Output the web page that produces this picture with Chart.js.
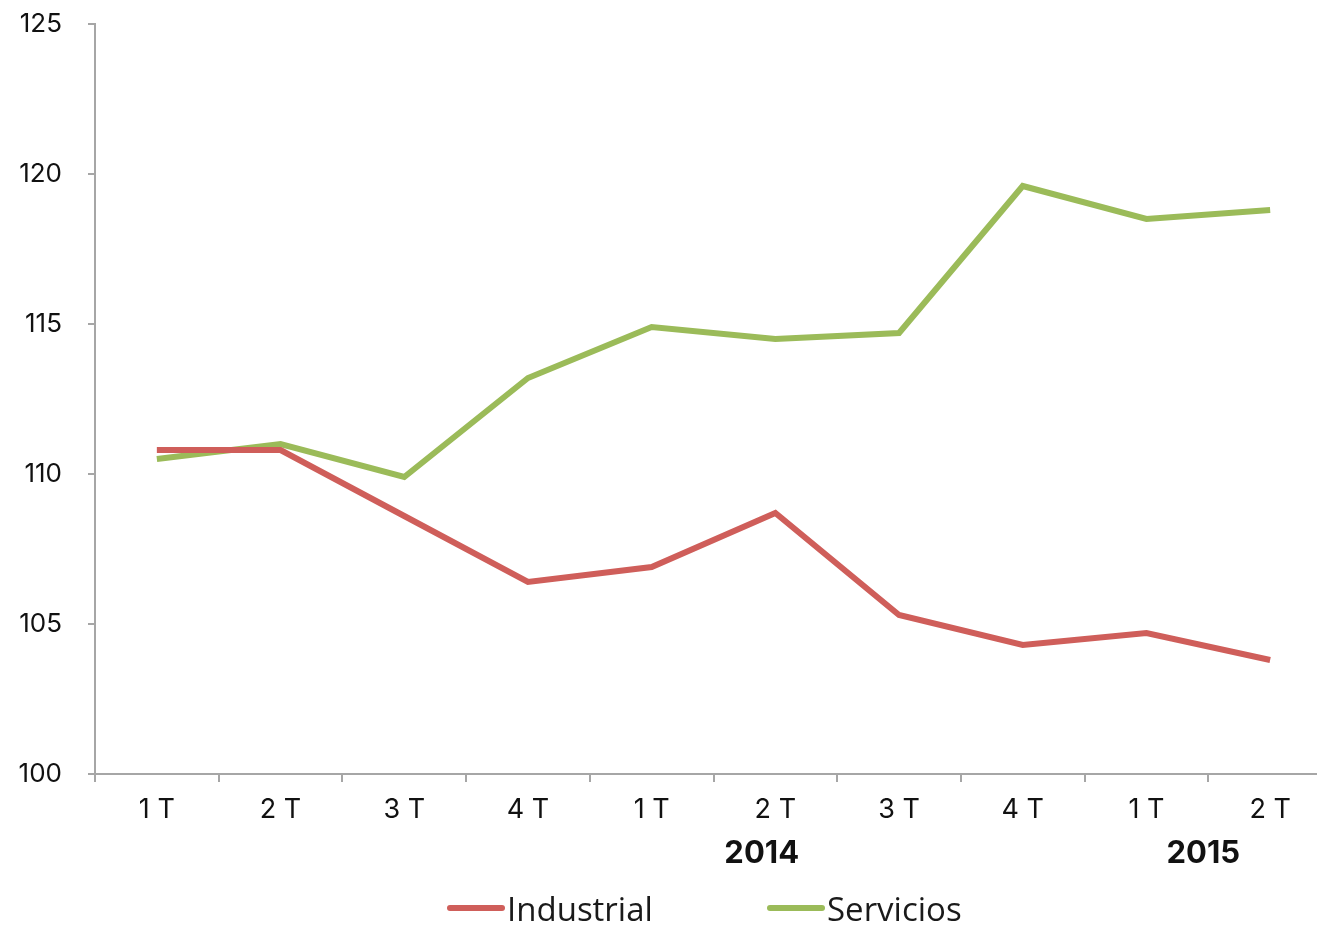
<!DOCTYPE html>
<html>
<head>
<meta charset="utf-8">
<script src="https://cdn.jsdelivr.net/npm/chart.js@4/dist/chart.umd.min.js"></script>
<style>
  html, body { margin: 0; padding: 0; background: #fff; overflow: hidden; }
  #wrap { width: 1317px; height: 926px; overflow: hidden; }
</style>
</head>
<body>
<!-- canvas is a bit wider than the page: the x axis runs past the right edge -->
<div id="wrap"><canvas id="empleoChart" width="1332" height="926"></canvas></div>
<script>
const quarters = ['1 T', '2 T', '3 T', '4 T', '1 T', '2 T', '3 T', '4 T', '1 T', '2 T'];
const industrial = [110.8, 110.8, 108.6, 106.4, 106.9, 108.7, 105.3, 104.3, 104.7, 103.8];
const servicios = [110.5, 111.0, 109.9, 113.2, 114.9, 114.5, 114.7, 119.6, 118.5, 118.8];
const yearLabels = ['2014', '2015'];
const yearPositions = [4.89, 8.46]; // category index under which each year sits

const fontTicks = 'Inter, "Open Sans", sans-serif';

// year captions under the quarter labels + bottom legend
const extras = {
    id: 'extras',
    afterDraw(chart) {
        const ctx = chart.ctx;
        const x = chart.scales.x;
        ctx.save();
        ctx.fillStyle = '#111';
        ctx.font = 'bold 31px ' + fontTicks;
        ctx.textAlign = 'center';
        ctx.textBaseline = 'middle';
        yearLabels.forEach(function (lbl, i) {
            ctx.fillText(lbl, x.getPixelForValue(yearPositions[i]), 854);
        });

        // legend
        const items = [
            { ds: chart.data.datasets[0], x: 450 },
            { ds: chart.data.datasets[1], x: 770 }
        ];
        ctx.textAlign = 'left';
        ctx.font = '33px "Open Sans", sans-serif';
        items.forEach(function (it) {
            ctx.strokeStyle = it.ds.borderColor;
            ctx.lineWidth = 6;
            ctx.lineCap = 'round';
            ctx.beginPath();
            ctx.moveTo(it.x, 908);
            ctx.lineTo(it.x + 52, 908);
            ctx.stroke();
            ctx.fillStyle = '#1a1a1a';
            ctx.fillText(it.ds.label, it.x + 57, 912);
        });
        ctx.restore();
    }
};

const ctx = document.getElementById('empleoChart').getContext('2d');
const empleoChart = new Chart(ctx, {
    type: 'line',
    data: {
        labels: quarters,
        datasets: [{
            label: 'Industrial',
            data: industrial,
            borderColor: '#cf5e5a',
            backgroundColor: '#cf5e5a',
            borderWidth: 6,
            pointRadius: 0,
            tension: 0
        }, {
            label: 'Servicios',
            data: servicios,
            borderColor: '#9bbb59',
            backgroundColor: '#9bbb59',
            borderWidth: 6,
            pointRadius: 0,
            tension: 0
        }]
    },
    options: {
        responsive: false,
        animation: false,
        layout: {
            padding: { top: 24, right: 0, bottom: 0, left: 0 }
        },
        plugins: {
            legend: { display: false },
            tooltip: { enabled: false }
        },
        scales: {
            x: {
                offset: true,
                grid: {
                    offset: true,
                    drawOnChartArea: false,
                    drawTicks: true,
                    tickLength: 8,
                    color: '#a6a6a6',
                    lineWidth: 2
                },
                border: { color: '#a6a6a6', width: 2 },
                ticks: {
                    color: '#111',
                    padding: 12,
                    maxRotation: 0,
                    autoSkip: false,
                    font: { family: fontTicks, size: 27 }
                },
                afterFit: function (scale) {
                    scale.height = 152;
                    scale.paddingLeft = 0;
                    scale.paddingRight = 0;
                }
            },
            y: {
                min: 100,
                max: 125,
                ticks: {
                    stepSize: 5,
                    color: '#111',
                    padding: 26,
                    font: { family: fontTicks, size: 26 }
                },
                grid: {
                    drawOnChartArea: false,
                    drawTicks: true,
                    tickLength: 7,
                    color: '#a6a6a6',
                    lineWidth: 2
                },
                border: { color: '#a6a6a6', width: 2 },
                afterFit: function (scale) {
                    scale.width = 95;
                    scale.paddingTop = 0;
                    scale.paddingBottom = 0;
                }
            }
        }
    },
    plugins: [extras]
});
</script>
</body>
</html>
